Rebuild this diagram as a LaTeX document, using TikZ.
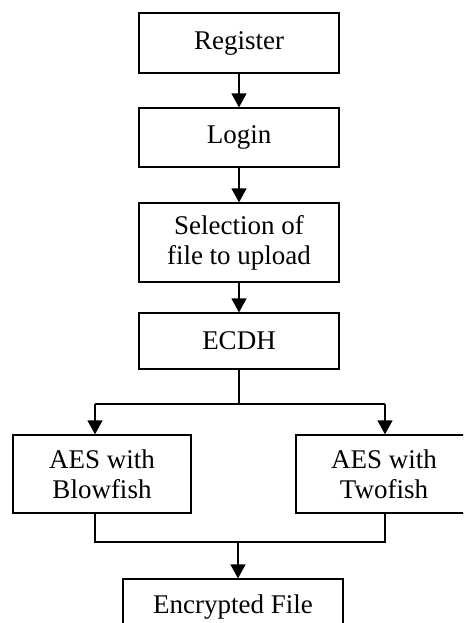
\documentclass[tikz,border=0pt]{standalone}
\usepackage{fontspec}
\setmainfont{Liberation Serif}
\usetikzlibrary{arrows.meta}

\tikzset{
    box/.style={draw, line width=0.6pt, align=center, font=\fontsize{13.5}{15}\selectfont},
    flow/.style={line width=0.6pt, -{Triangle[length=7pt, width=7.5pt]}},
    link/.style={line width=0.6pt}
}

\begin{document}
\begin{tikzpicture}[x=0.5pt, y=-0.5pt]
    \useasboundingbox (0,0) rectangle (463,623);
    \clip (0,0) rectangle (463,623);

    % main column
    \node[box, minimum width=100pt, minimum height=30pt] (reg) at (239, 43) {Register};
    \node[box, minimum width=100pt, minimum height=29.5pt] (login) at (239, 137.5) {Login};
    \node[box, minimum width=100pt, minimum height=39.5pt] (sel) at (239, 242.5) {Selection of\\file to upload};
    \node[box, minimum width=100pt, minimum height=28pt] (ecdh) at (239, 341) {ECDH};

    % two branches
    \node[box, minimum width=89pt, minimum height=39pt] (blow) at (102, 474) {AES with\\Blowfish};
    \node[box, minimum width=88pt, minimum height=39pt] (two) at (384, 474) {AES with\\Twofish};

    % result
    \node[box, minimum width=110pt, minimum height=28pt] (enc) at (233, 607) {Encrypted File};

    \draw[flow] (reg) -- (login);
    \draw[flow] (login) -- (sel);
    \draw[flow] (sel) -- (ecdh);

    % split and merge points
    \coordinate (lsplit) at (95, 404);
    \coordinate (rsplit) at (385, 404);
    \coordinate (lmerge) at (95, 542);
    \coordinate (rmerge) at (385, 542);
    \coordinate (merge) at (238, 542);

    \draw[link] (ecdh.south) |- (lsplit);
    \draw[link] (ecdh.south) |- (rsplit);
    \draw[flow] (lsplit) -- (lsplit |- blow.north);
    \draw[flow] (rsplit) -- (rsplit |- two.north);

    \draw[link] (lmerge |- blow.south) -- (lmerge) -- (rmerge) -- (rmerge |- two.south);
    \draw[flow] (merge) -- (merge |- enc.north);
\end{tikzpicture}
\end{document}
